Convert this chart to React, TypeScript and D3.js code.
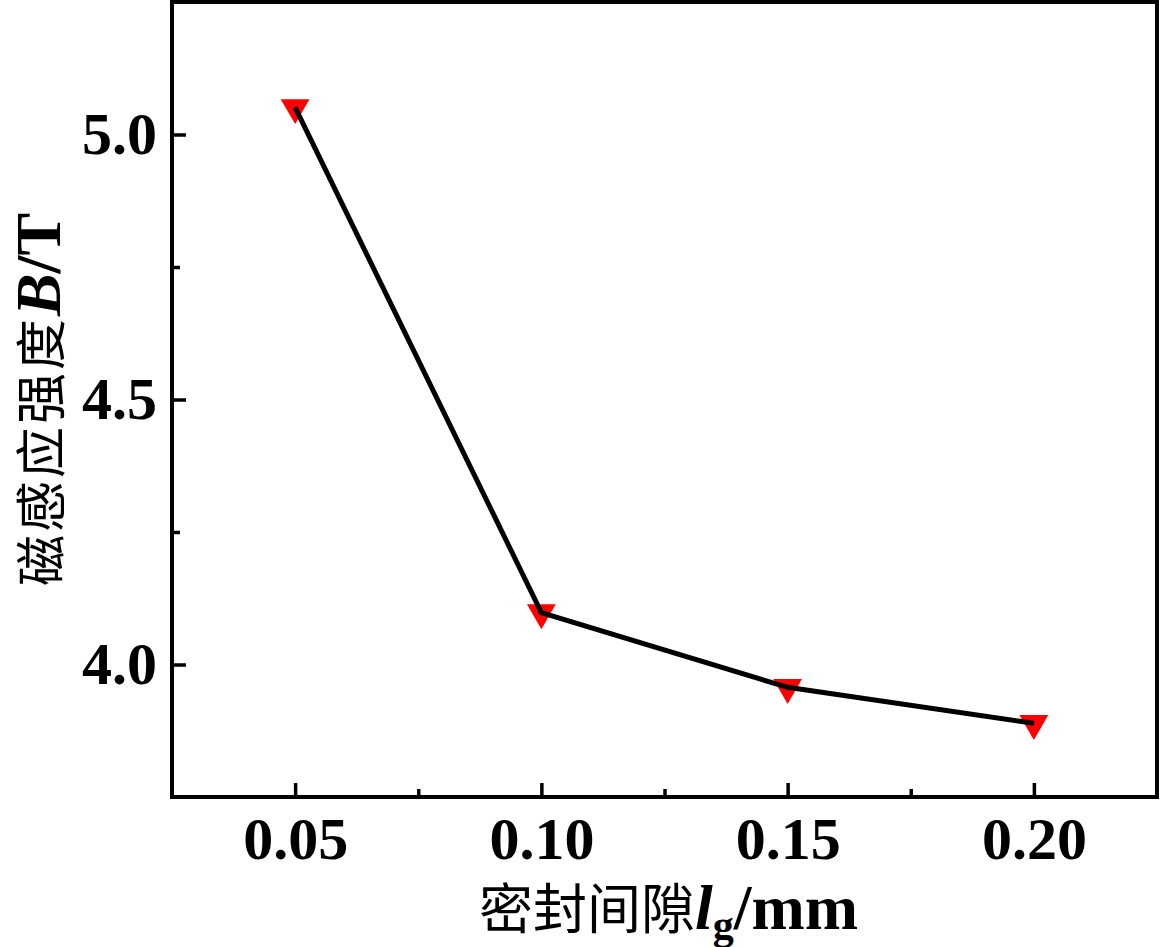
import * as d3 from "d3";
import { useEffect, useRef } from "react";

// seal gap (mm) vs magnetic flux density (T)
const gapValues = [0.05, 0.1, 0.15, 0.2];
const fluxValues = [5.051, 4.098, 3.957, 3.889];

const xTickValues = [0.05, 0.1, 0.15, 0.2];
const xMinorTicks = [0.075, 0.125, 0.175];
const yTickValues = [4.0, 4.5, 5.0];
const yMinorTicks = [4.25, 4.75];

const width = 1162;
const height = 947;
const marginLeft = 172;
const marginRight = 5;
const marginTop = 2;
const marginBottom = 150;

const serif = "'Liberation Serif', 'Times New Roman', serif";
const cjk = "'Noto Sans CJK SC', sans-serif";

export default function App() {
  const xAxisRef = useRef<SVGGElement>(null);
  const yAxisRef = useRef<SVGGElement>(null);
  const xMinorRef = useRef<SVGGElement>(null);
  const yMinorRef = useRef<SVGGElement>(null);

  const x = d3.scaleLinear([0.025, 0.225], [marginLeft, width - marginRight]);
  const y = d3.scaleLinear([3.75, 5.25], [height - marginBottom, marginTop]);

  useEffect(() => {
    const styleAxis = (g: any) => {
      g.select(".domain").remove();
      g.selectAll(".tick line").attr("stroke", "#000").attr("stroke-width", 3.5);
      g.selectAll(".tick text")
        .attr("fill", "#000")
        .attr("font-family", serif)
        .attr("font-weight", "bold")
        .attr("font-size", 60);
    };
    d3.select(xAxisRef.current)
      .call(d3.axisBottom(x).tickValues(xTickValues).tickSize(-14).tickPadding(19).tickFormat(d3.format(".2f")))
      .call(styleAxis);
    d3.select(yAxisRef.current)
      .call(d3.axisLeft(y).tickValues(yTickValues).tickSize(-14).tickPadding(15).tickFormat(d3.format(".1f")))
      .call(styleAxis);
    d3.select(xMinorRef.current)
      .call(d3.axisBottom(x).tickValues(xMinorTicks).tickSize(-8).tickFormat(() => ""))
      .call(styleAxis);
    d3.select(yMinorRef.current)
      .call(d3.axisLeft(y).tickValues(yMinorTicks).tickSize(-8).tickFormat(() => ""))
      .call(styleAxis);
  }, []);

  const line = d3.line<number>()
    .x((_, i) => x(gapValues[i]))
    .y((d) => y(d));

  const triangle = d3.symbol(d3.symbolTriangle, 360)();

  const plotBottom = height - marginBottom;

  return (
    <svg
      width={width}
      height={height}
      style={{ position: "absolute", left: 0, top: 0, background: "#fff" }}
    >
      {/* markers first, the line runs over them */}
      {fluxValues.map((v, i) => (
        <path
          key={i}
          d={triangle || ""}
          transform={`translate(${x(gapValues[i])},${y(v)}) rotate(180)`}
          fill="#ff0000"
        />
      ))}
      <path d={line(fluxValues) || ""} fill="none" stroke="#000" strokeWidth={5} />

      <g ref={xAxisRef} transform={`translate(0,${plotBottom})`} />
      <g ref={xMinorRef} transform={`translate(0,${plotBottom})`} />
      <g ref={yAxisRef} transform={`translate(${marginLeft},0)`} />
      <g ref={yMinorRef} transform={`translate(${marginLeft},0)`} />

      {/* frame */}
      <rect
        x={marginLeft}
        y={marginTop}
        width={width - marginRight - marginLeft}
        height={plotBottom - marginTop}
        fill="none"
        stroke="#000"
        strokeWidth={4}
      />

      {/* x title */}
      <text x={(marginLeft + width - marginRight) / 2 + 4} y={929} textAnchor="middle" fill="#000">
        <tspan fontFamily={cjk} fontSize={54}>密封间隙</tspan>
        <tspan fontFamily={serif} fontSize={64} fontWeight="bold" fontStyle="italic">l</tspan>
        <tspan fontFamily={serif} fontSize={42} fontWeight="bold" dy={10}>g</tspan>
        <tspan fontFamily={serif} fontSize={64} fontWeight="bold" dy={-10}>/mm</tspan>
      </text>

      {/* y title */}
      <text
        transform={`translate(60,${(marginTop + plotBottom) / 2}) rotate(-90)`}
        textAnchor="middle"
        fill="#000"
      >
        <tspan fontFamily={cjk} fontSize={51} letterSpacing={3}>磁感应强度</tspan>
        <tspan fontFamily={serif} fontSize={64} fontWeight="bold" fontStyle="italic">B</tspan>
        <tspan fontFamily={serif} fontSize={64} fontWeight="bold">/T</tspan>
      </text>
    </svg>
  );
}
